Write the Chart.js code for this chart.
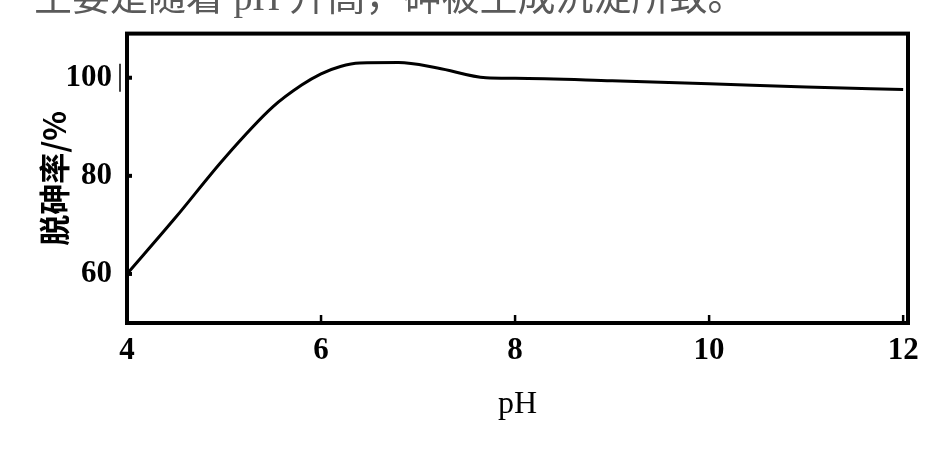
<!DOCTYPE html>
<html>
<head>
<meta charset="utf-8">
<script src="https://cdn.jsdelivr.net/npm/chart.js@4/dist/chart.umd.min.js"></script>
<style>
  html, body { margin:0; padding:0; background:#fff; }
  canvas { display:block; }
</style>
</head>
<body>
<canvas id="c" width="940" height="468"></canvas>
<script>
const pH = [4, 4.5, 5, 5.5, 5.8, 6.0, 6.2, 6.4, 6.8, 7.2, 7.7, 8, 9, 10, 11, 12];
const removal = [60, 71.5, 83.5, 94, 98.5, 100.8, 102.3, 103, 103.1, 102, 100, 99.9, 99.4, 98.8, 98.1, 97.6];
const xTicks = [4, 6, 8, 10, 12];
const yTicks = [60, 80, 100];
const xTitle = 'pH';
const yTitle = '脱砷率/%';
const topTextParts = ['主要是随着', ' pH ', '升高，砷被生成沉淀所致。'];

const tickFont = { family: '"Liberation Serif", "Times New Roman", serif', size: 31, weight: 'bold' };
const titleFontX = { family: '"Liberation Serif", serif', size: 32 };
const titleFontY = { family: '"Noto Sans CJK SC", sans-serif', size: 31, weight: 'bold' };

const textPlugin = {
  id: 'toptext',
  beforeDraw(chart) {
    const ctx = chart.ctx;
    ctx.save();
    ctx.fillStyle = '#5a5a5a';
    ctx.textBaseline = 'alphabetic';
    let x = 34;
    const fonts = ['38px "Noto Sans CJK SC"', '38px "Liberation Serif"', '38px "Noto Sans CJK SC"'];
    topTextParts.forEach((t, i) => {
      ctx.font = fonts[i];
      ctx.fillText(t, x, 10);
      x += ctx.measureText(t).width;
    });
    ctx.restore();
  }
};

const framePlugin = {
  id: 'frame',
  afterDraw(chart) {
    const { ctx, chartArea: a, scales } = chart;
    ctx.save();
    ctx.strokeStyle = '#000';
    ctx.lineWidth = 4;
    ctx.strokeRect(a.left, a.top, a.right - a.left, a.bottom - a.top);
    ctx.lineWidth = 2.5;
    xTicks.slice(1).forEach(v => {
      const x = scales.x.getPixelForValue(v);
      ctx.beginPath(); ctx.moveTo(x, a.bottom); ctx.lineTo(x, a.bottom - 8); ctx.stroke();
    });
    ctx.lineWidth = 4;
    yTicks.forEach(v => {
      const y = scales.y.getPixelForValue(v);
      ctx.beginPath(); ctx.moveTo(a.left, y); ctx.lineTo(a.left + 5, y); ctx.stroke();
    });
    const y100 = scales.y.getPixelForValue(100);
    ctx.lineWidth = 1.5;
    ctx.beginPath(); ctx.moveTo(a.left - 7, y100 - 14); ctx.lineTo(a.left - 7, y100 + 14); ctx.stroke();
    ctx.restore();
  }
};

new Chart(document.getElementById('c'), {
  type: 'line',
  data: {
    datasets: [{
      data: pH.map((v, i) => ({ x: v, y: removal[i] })),
      borderColor: '#000',
      borderWidth: 3,
      pointRadius: 0,
      cubicInterpolationMode: 'monotone',
      fill: false
    }]
  },
  options: {
    responsive: false,
    animation: false,
    devicePixelRatio: 1,
    layout: { padding: { left: 0, top: 28, right: 32, bottom: 0 } },
    plugins: { legend: { display: false }, tooltip: { enabled: false } },
    scales: {
      x: {
        type: 'linear', min: 4, max: 12.05,
        afterBuildTicks: s => { s.ticks = xTicks.map(v => ({ value: v })); },
        afterFit: s => { s.height = 145; },
        grid: { display: false, drawTicks: false },
        border: { display: false },
        ticks: { font: tickFont, color: '#000', padding: 9, maxRotation: 0, autoSkip: false },
        title: { display: true, text: xTitle, font: titleFontX, color: '#000', padding: { top: 0, bottom: 44 } }
      },
      y: {
        type: 'linear', min: 50, max: 109,
        afterBuildTicks: s => { s.ticks = yTicks.map(v => ({ value: v })); },
        afterFit: s => { s.width = 127; },
        grid: { display: false, drawTicks: false },
        border: { display: false },
        ticks: { font: tickFont, color: '#000', padding: 15 },
        title: { display: true, text: yTitle, font: titleFontY, color: '#000', padding: { top: 36, bottom: 0 } }
      }
    }
  },
  plugins: [textPlugin, framePlugin]
});
</script>
</body>
</html>
